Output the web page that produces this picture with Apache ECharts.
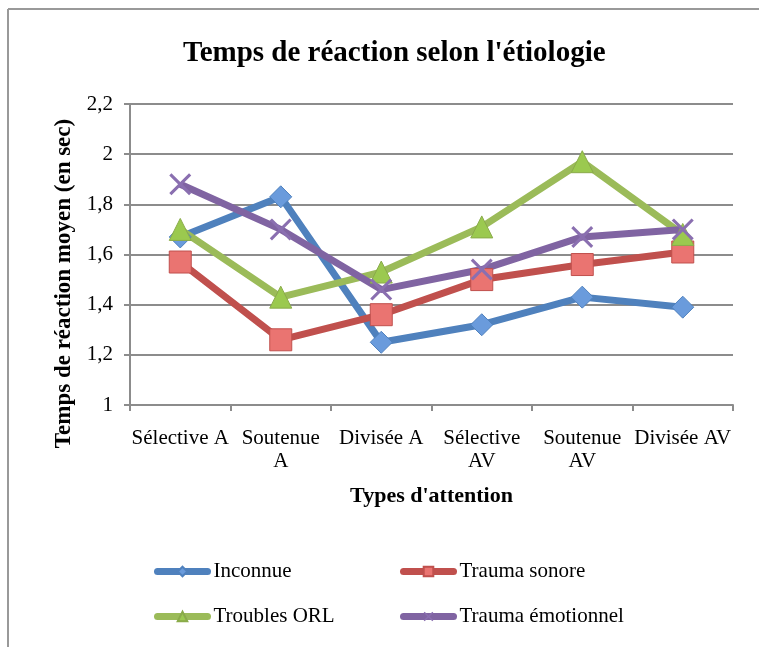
<!DOCTYPE html>
<html>
<head>
<meta charset="utf-8">
<script src="https://cdn.jsdelivr.net/npm/echarts@6/dist/echarts.min.js"></script>
<style>
  html, body { margin: 0; padding: 0; background: #fff; }
  #chart { width: 759px; height: 647px; }
</style>
</head>
<body>
<div id="chart"></div>
<script>
// données
var categories = ['Sélective A', 'Soutenue\nA', 'Divisée A', 'Sélective\nAV', 'Soutenue\nAV', 'Divisée AV'];
var inconnue = [1.67, 1.83, 1.25, 1.32, 1.43, 1.39];
var traumaSonore = [1.57, 1.26, 1.36, 1.50, 1.56, 1.61];
var troublesORL = [1.70, 1.43, 1.53, 1.71, 1.97, 1.68];
var traumaEmotionnel = [1.88, 1.70, 1.46, 1.54, 1.67, 1.70];
var yTicks = { min: 1, max: 2.2, interval: 0.2 };

var fontFamily = '"Liberation Serif", "DejaVu Serif", serif';
var gridGray = '#8c8c8c';

var myChart = echarts.init(document.getElementById('chart'));

// path pour la croix (X)
var crossPath = 'path://M0,1L1,0L5,4L9,0L10,1L6,5L10,9L9,10L5,6L1,10L0,9L4,5Z';

function legendItem(name, left, top) {
    return {
        data: [name],
        left: left,
        top: top,
        padding: 0,
        itemWidth: 50,
        itemHeight: 12,
        itemGap: 0,
        lineStyle: { width: 7, cap: 'round' },
        textStyle: { fontFamily: fontFamily, fontSize: 21, color: '#000', padding: [0, 0, 0, 1] }
    };
}

var option = {
    animation: false,
    textStyle: { fontFamily: fontFamily },
    title: {
        text: "Temps de réaction selon l'étiologie",
        left: 178,
        top: 34,
        textStyle: { fontFamily: fontFamily, fontSize: 29, fontWeight: 'bold', color: '#000' }
    },
    // cadre
    graphic: [
        { type: 'line', shape: { x1: 8, y1: 9, x2: 759, y2: 9 }, style: { stroke: '#999', lineWidth: 2 } },
        { type: 'line', shape: { x1: 8, y1: 9, x2: 8, y2: 647 }, style: { stroke: '#999', lineWidth: 2 } }
    ],
    legend: [
        legendItem('Inconnue', 154, 561),
        legendItem('Trauma sonore', 400, 561),
        legendItem('Troubles ORL', 154, 606),
        legendItem('Trauma émotionnel', 400, 606)
    ],
    grid: { left: 130, right: 26, top: 104, bottom: 242 },
    xAxis: {
        type: 'category',
        data: categories,
        boundaryGap: true,
        name: "Types d'attention",
        nameLocation: 'middle',
        nameGap: 80,
        nameTextStyle: { fontFamily: fontFamily, fontSize: 22, fontWeight: 'bold', color: '#000' },
        axisLine: { lineStyle: { color: gridGray, width: 2 } },
        axisTick: { show: true, length: 6, interval: 0, lineStyle: { color: gridGray, width: 2 } },
        axisLabel: { interval: 0, margin: 22, fontSize: 21, color: '#000', lineHeight: 23, fontFamily: fontFamily }
    },
    yAxis: {
        type: 'value',
        min: yTicks.min,
        max: yTicks.max,
        interval: yTicks.interval,
        name: 'Temps de réaction moyen (en sec)',
        nameLocation: 'middle',
        nameRotate: 90,
        nameGap: 54,
        nameTextStyle: { fontFamily: fontFamily, fontSize: 23, fontWeight: 'bold', color: '#000', padding: [0, 58, 0, 0] },
        axisLine: { show: true, lineStyle: { color: gridGray, width: 2 } },
        axisTick: { show: true, length: 6, lineStyle: { color: gridGray, width: 2 } },
        splitLine: { lineStyle: { color: gridGray, width: 2 } },
        axisLabel: {
            margin: 17,
            fontSize: 21,
            color: '#000',
            fontFamily: fontFamily,
            formatter: function (v) {
                return String(Math.round(v * 10) / 10).replace('.', ',');
            }
        }
    },
    series: [
        {
            name: 'Inconnue',
            type: 'line',
            data: inconnue,
            symbol: 'diamond',
            symbolSize: 22,
            lineStyle: { color: '#4f81bd', width: 7 },
            itemStyle: { color: '#6a9bdc', borderColor: '#4f81bd', borderWidth: 1 }
        },
        {
            name: 'Trauma sonore',
            type: 'line',
            data: traumaSonore,
            symbol: 'rect',
            symbolSize: 22,
            lineStyle: { color: '#c0504d', width: 7 },
            itemStyle: { color: '#ea7471', borderColor: '#c0504d', borderWidth: 1 }
        },
        {
            name: 'Troubles ORL',
            type: 'line',
            data: troublesORL,
            symbol: 'triangle',
            symbolSize: 22,
            lineStyle: { color: '#9bbb59', width: 7 },
            itemStyle: { color: '#9bc94f', borderColor: '#8aab4a', borderWidth: 1 }
        },
        {
            name: 'Trauma émotionnel',
            type: 'line',
            data: traumaEmotionnel,
            symbol: crossPath,
            symbolSize: 22,
            lineStyle: { color: '#8064a2', width: 7 },
            itemStyle: { color: '#8a6fb0' }
        }
    ]
};

myChart.setOption(option);
</script>
</body>
</html>
